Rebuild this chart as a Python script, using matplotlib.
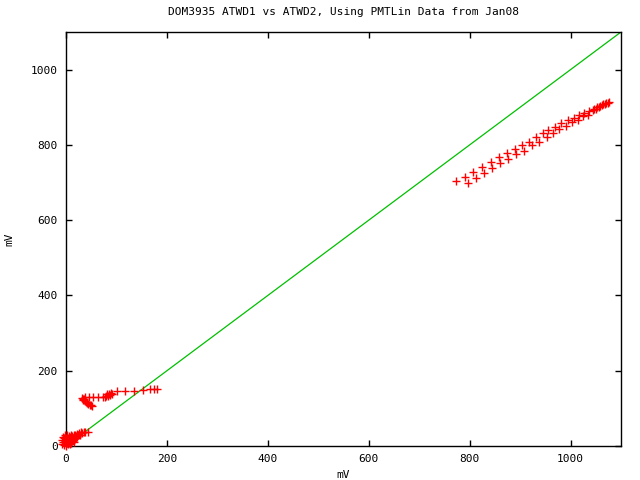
import matplotlib
matplotlib.use("Agg")
import matplotlib.pyplot as plt
import numpy as np

title = "DOM3935 ATWD1 vs ATWD2, Using PMTLin Data from Jan08"
xlabel = "mV"
ylabel = "mV"

# reference line y = x
line_x = [0, 1100]
line_y = [0, 1100]

# data points (ATWD1 vs ATWD2)
low_x = [-8, -7, -6, -5, -4, -3, -2, -1, 0, 0, 1, 2, 2, 3, 4, 5, 5, 6, 7, 8, 8, 9, 10, 10,
         11, 12, 12, 13, 14, 15, 15, 16, 17, 18, 19, 20, 21, 22, 23, 24, 26, 28, 30, 32, 35, 38, 43]
low_y = [5, 15, 25, 10, 20, 3, 12, 28, 0, 18, 8, 22, 30, 14, 4, 10, 26, 18, 6, 14, 24, 20, 8, 30,
         16, 12, 26, 22, 18, 28, 10, 24, 20, 30, 22, 26, 24, 32, 28, 30, 34, 30, 36, 34, 38, 38, 38]

mid_x = [32, 33, 34, 35, 37, 39, 41, 44, 47, 50, 52, 38, 46, 54, 63, 74, 78, 80, 82, 84, 86, 88,
         90, 92, 102, 117, 135, 153, 167, 175, 180]
mid_y = [127, 124, 121, 126, 120, 117, 114, 112, 110, 108, 106, 129, 129, 129, 129, 129, 130, 134,
         137, 132, 139, 135, 141, 138, 145, 146, 146, 149, 151, 151, 151]

high_x = [773, 790, 797, 807, 813, 824, 829, 843, 845, 859, 861, 874, 876, 890, 892, 904, 908, 918,
          923, 931, 938, 945, 953, 956, 966, 970, 978, 982, 991, 994, 1003, 1006, 1014, 1016, 1024,
          1026, 1034, 1036, 1044, 1047, 1050, 1053, 1056, 1059, 1062, 1065, 1068, 1071, 1074, 1077]
high_y = [703, 715, 699, 729, 712, 741, 725, 755, 739, 768, 752, 779, 762, 790, 776, 800, 785, 809,
          799, 821, 809, 832, 821, 840, 832, 848, 842, 858, 851, 867, 860, 871, 867, 880, 876,
          885, 880, 889, 892, 896, 896, 900, 902, 904, 906, 908, 910, 911, 912, 914]

xticks = [0, 200, 400, 600, 800, 1000]
yticks = [0, 200, 400, 600, 800, 1000]

plt.rcParams['font.family'] = ['DejaVu Sans Mono']
fig = plt.figure(figsize=(6.4, 4.8), dpi=100)
ax = fig.add_axes([66/640, 34/480, 555/640, 414/480])

ax.plot(line_x, line_y, color='#00c000', lw=0.9, zorder=2)
pts_x = low_x + mid_x + high_x
pts_y = low_y + mid_y + high_y
ax.plot(pts_x, pts_y, linestyle='none', marker='+', color='#ff0000', ms=5.5, mew=1.0,
        zorder=3, clip_on=False)

ax.set_xlim(0, 1100)
ax.set_ylim(0, 1100)
ax.set_xticks(xticks)
ax.set_yticks(yticks)
ax.tick_params(direction='in', length=4, width=1, top=True, right=True, labelsize=8, pad=6)
for s in ax.spines.values():
    s.set_linewidth(1)
ax.set_title(title, fontsize=8, pad=12)
ax.set_xlabel(xlabel, fontsize=8, labelpad=4)
ax.set_ylabel(ylabel, fontsize=8, labelpad=12)

fig.savefig("out.png", dpi=100)
